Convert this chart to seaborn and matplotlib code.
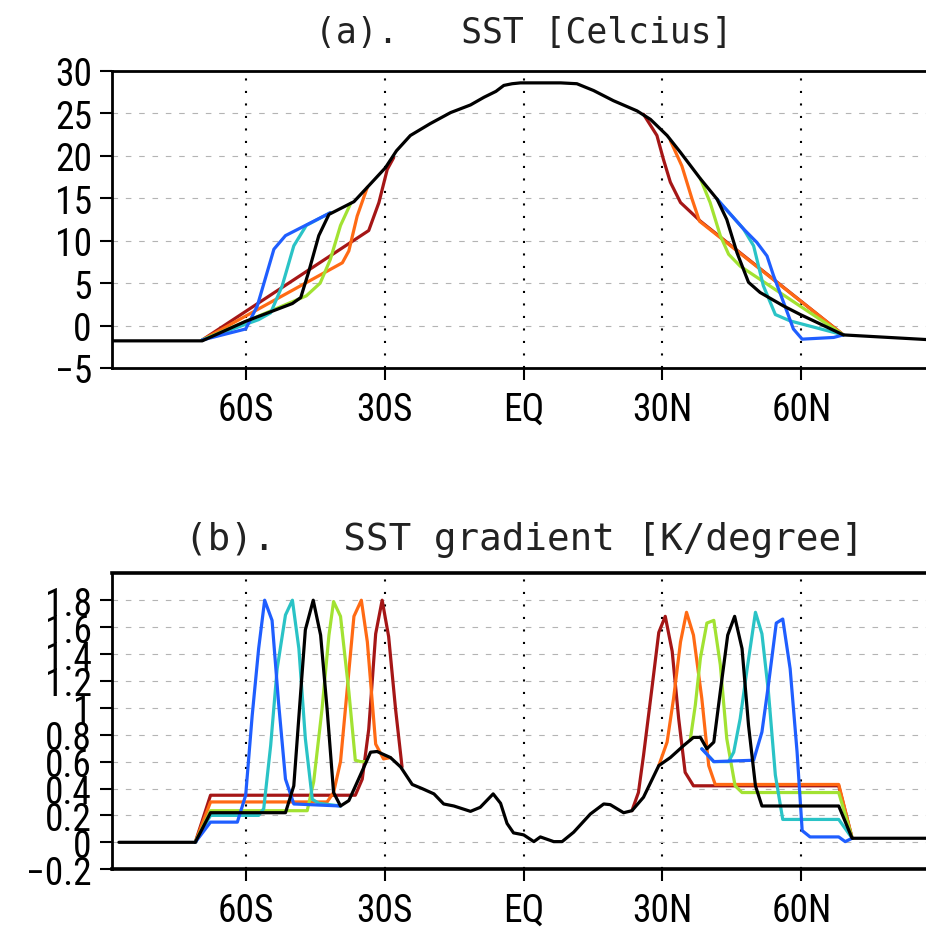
import numpy as np
import pandas as pd
import matplotlib
matplotlib.use("Agg")
import matplotlib.pyplot as plt
from matplotlib import font_manager
import seaborn as sns

# ---------------- data ----------------
xticks = [-60, -30, 0, 30, 60]
xticklabels = ["60S", "30S", "EQ", "30N", "60N"]
a_yticks = [-5, 0, 5, 10, 15, 20, 25, 30]
a_yticklabels = ["\u22125", "0", "5", "10", "15", "20", "25", "30"]
b_yticks = [-0.2, 0, 0.2, 0.4, 0.6, 0.8, 1.0, 1.2, 1.4, 1.6, 1.8]
b_yticklabels = ["\u22120.2", "0", "0.2", "0.4", "0.6", "0.8", "1", "1.2", "1.4", "1.6", "1.8"]

colors = {"red": "#a51616", "orange": "#ff6a14", "green": "#a2e232",
          "cyan": "#2ac3c6", "blue": "#1f5eff", "black": "#000000"}

# Panel (a): SST [Celcius]
sst_ctl_lat = [-88.8, -69.5, -60.1, -50.0, -48.2, -46.5, -44.3, -42.1, -36.7, -33.8, -29.9,
               -27.5, -24.5, -20.2, -15.8, -11.5, -8.6, -6.0, -4.3, -2.5, -0.7, 2.2, 8.0, 11.5,
               15.1, 19.4, 24.5, 27.4, 31.0, 33.9, 38.2, 41.8, 43.9, 46.1, 48.6, 51.1, 56.2,
               59.8, 69.1, 88.8]
sst_ctl_val = [-1.8, -1.8, 0.5, 2.6, 3.3, 6.3, 10.6, 13.1, 14.6, 16.3, 18.6,
               20.6, 22.4, 23.8, 25.1, 26.0, 26.9, 27.6, 28.3, 28.5, 28.6, 28.6, 28.6, 28.5,
               27.7, 26.5, 25.3, 24.3, 22.4, 20.4, 17.3, 14.9, 12.5, 8.6, 5.1, 3.9, 2.3,
               1.3, -1.1, -1.7]

sst_red_sh_lat = [-69.5, -33.5, -31.3, -29.5, -28.1]
sst_red_sh_val = [-1.7, 11.2, 14.5, 18.4, 19.8]
sst_red_nh_lat = [25.9, 28.8, 30.2, 31.7, 33.9, 38.2, 69.1]
sst_red_nh_val = [24.9, 22.4, 19.6, 16.9, 14.5, 12.3, -1.1]

sst_orange_sh_lat = [-69.5, -39.2, -37.8, -36.0, -33.8]
sst_orange_sh_val = [-1.7, 7.4, 8.8, 12.9, 16.3]
sst_orange_nh_lat = [31.7, 34.2, 36.4, 38.0, 69.1]
sst_orange_nh_val = [21.8, 18.8, 14.9, 12.3, -1.1]

sst_green_sh_lat = [-69.5, -47.0, -44.0, -41.8, -39.6, -37.4]
sst_green_sh_val = [-1.7, 3.5, 5.0, 7.8, 11.8, 14.4]
sst_green_nh_lat = [38.2, 40.3, 42.5, 44.3, 46.8, 69.1]
sst_green_nh_val = [17.3, 14.5, 10.6, 8.4, 7.0, -1.1]

sst_cyan_sh_lat = [-69.5, -57.3, -54.7, -52.2, -49.7, -47.0, -41.8]
sst_cyan_sh_val = [-1.7, 0.7, 1.5, 4.7, 9.4, 11.8, 13.3]
sst_cyan_nh_lat = [41.8, 47.5, 49.7, 51.8, 54.4, 57.6, 69.1]
sst_cyan_nh_val = [14.9, 11.4, 9.4, 4.7, 1.3, 0.55, -1.1]

sst_blue_sh_lat = [-69.5, -60.1, -57.6, -54.0, -51.5, -41.8]
sst_blue_sh_val = [-1.7, -0.4, 2.3, 9.0, 10.6, 13.3]
sst_blue_nh_lat = [41.8, 47.5, 50.4, 52.6, 54.0, 56.2, 58.3, 60.2, 67.0, 69.1]
sst_blue_nh_val = [14.9, 11.4, 9.8, 8.2, 5.9, 2.7, -0.4, -1.6, -1.4, -1.1]

# Panel (b): SST gradient [K/degree]
grd_ctl_lat = [-87.5, -71.0, -67.7, -51.5, -49.7, -48.2, -47.2, -45.5, -43.9, -42.5, -41.1,
               -39.6, -37.8, -35.7, -33.1, -31.7, -28.8, -26.6, -24.1, -22.0, -19.4, -17.3,
               -15.1, -11.5, -9.4, -6.6, -5.0, -3.6, -2.2, -0.7, 0.0, 2.2, 3.6, 6.5, 8.3,
               10.8, 14.4, 17.3, 18.7, 21.6, 23.4, 25.9, 29.2, 31.7, 34.6, 36.7, 38.2, 39.6,
               41.1, 42.5, 44.1, 45.6, 47.2, 48.6, 50.1, 51.5, 68.1, 71.0, 87.5]
grd_ctl_val = [0.0, 0.0, 0.22, 0.22, 0.42, 1.12, 1.58, 1.80, 1.54, 0.99, 0.37,
               0.27, 0.31, 0.47, 0.67, 0.675, 0.63, 0.56, 0.43, 0.40, 0.36, 0.285,
               0.27, 0.23, 0.26, 0.36, 0.29, 0.14, 0.07, 0.06, 0.055, 0.005, 0.04, 0.005, 0.005,
               0.075, 0.21, 0.285, 0.28, 0.22, 0.235, 0.335, 0.57, 0.63, 0.72, 0.78, 0.78, 0.695,
               0.745, 1.12, 1.54, 1.68, 1.44, 0.87, 0.42, 0.27, 0.27, 0.03, 0.03]

grd_red_sh_lat = [-71.0, -67.7, -36.4, -34.9, -33.5, -32.0, -30.6, -29.2, -27.7, -26.3]
grd_red_sh_val = [0.0, 0.35, 0.35, 0.47, 0.84, 1.55, 1.80, 1.53, 0.99, 0.56]
grd_red_nh_lat = [23.4, 24.8, 25.9, 27.7, 29.2, 30.6, 32.1, 33.5, 34.9, 36.7, 68.1, 71.0]
grd_red_nh_val = [0.235, 0.37, 0.645, 1.14, 1.56, 1.68, 1.42, 0.92, 0.52, 0.42, 0.42, 0.03]

grd_orange_sh_lat = [-71.0, -67.7, -42.5, -41.1, -39.6, -38.2, -36.7, -35.1, -33.8, -32.0, -30.3, -28.8]
grd_orange_sh_val = [0.0, 0.30, 0.30, 0.37, 0.60, 1.12, 1.68, 1.80, 1.49, 0.73, 0.62, 0.63]
grd_orange_nh_lat = [29.2, 31.0, 32.4, 33.9, 35.2, 36.7, 38.5, 40.0, 41.4, 68.1, 71.0]
grd_orange_nh_val = [0.57, 0.745, 1.07, 1.49, 1.71, 1.54, 1.07, 0.57, 0.43, 0.43, 0.03]

grd_green_sh_lat = [-71.0, -67.7, -46.8, -45.4, -43.6, -42.1, -41.1, -39.6, -37.8, -36.4, -35.3, -34.0]
grd_green_sh_val = [0.0, 0.235, 0.235, 0.45, 0.99, 1.54, 1.79, 1.68, 1.12, 0.61, 0.60, 0.60]
grd_green_nh_lat = [36.0, 37.1, 38.2, 39.6, 41.1, 42.5, 43.9, 45.7, 47.2, 68.1, 71.0]
grd_green_nh_val = [0.76, 1.02, 1.37, 1.63, 1.65, 1.32, 0.77, 0.42, 0.37, 0.37, 0.03]

grd_cyan_sh_lat = [-71.0, -67.7, -57.3, -56.2, -54.7, -53.3, -51.5, -50.0, -48.6, -47.2, -45.7, -44.3, -39.6]
grd_cyan_sh_val = [0.0, 0.20, 0.20, 0.25, 0.72, 1.29, 1.69, 1.80, 1.44, 0.77, 0.32, 0.29, 0.27]
grd_cyan_nh_lat = [38.5, 41.1, 44.3, 45.4, 46.8, 48.3, 50.1, 51.5, 52.9, 54.4, 56.0, 68.1, 71.0]
grd_cyan_nh_val = [0.695, 0.60, 0.60, 0.67, 0.92, 1.29, 1.71, 1.55, 1.12, 0.50, 0.17, 0.17, 0.03]

grd_blue_sh_lat = [-71.0, -67.7, -61.9, -60.1, -58.7, -57.3, -56.0, -54.4, -53.0, -51.5, -49.7, -39.6]
grd_blue_sh_val = [0.0, 0.15, 0.15, 0.35, 0.94, 1.44, 1.80, 1.65, 1.04, 0.47, 0.285, 0.27]
grd_blue_nh_lat = [38.5, 41.1, 49.7, 51.5, 52.9, 54.6, 56.0, 57.6, 59.1, 60.2, 61.9, 68.1, 69.5, 71.0]
grd_blue_nh_val = [0.695, 0.60, 0.61, 0.82, 1.17, 1.63, 1.66, 1.29, 0.67, 0.087, 0.04, 0.04, 0.005, 0.03]

# ---------------- styling ----------------
sns.set_theme(style="white")
names = {f.name for f in font_manager.fontManager.ttflist}
tick_font = "DejaVu Sans"
for cand in ["Liberation Sans Narrow", "DejaVu Sans Condensed", "Roboto Condensed",
             "Liberation Sans", "Roboto"]:
    if cand in names:
        tick_font = cand
        break
title_font = "DejaVu Sans Mono"
plt.rcParams["font.family"] = [tick_font, "DejaVu Sans"]
plt.rcParams["axes.unicode_minus"] = True

fig = plt.figure(figsize=(9.26, 9.29), dpi=100)
W, H = 926.0, 929.0
ax1 = fig.add_axes([112 / W, 1 - 369 / H, 823.4 / W, 297 / H])
ax2 = fig.add_axes([112 / W, 1 - 870.2 / H, 823.4 / W, 295.9 / H])


def draw(ax, lat, val, c, z):
    df = pd.DataFrame({"lat": lat, "val": val})
    sns.lineplot(data=df, x="lat", y="val", ax=ax, color=c, lw=2.3, sort=False,
                 estimator=None, legend=False, zorder=z)


order = ["red", "orange", "green", "cyan", "blue"]
series_a = {
    "red": [(sst_red_sh_lat, sst_red_sh_val), (sst_red_nh_lat, sst_red_nh_val)],
    "orange": [(sst_orange_sh_lat, sst_orange_sh_val), (sst_orange_nh_lat, sst_orange_nh_val)],
    "green": [(sst_green_sh_lat, sst_green_sh_val), (sst_green_nh_lat, sst_green_nh_val)],
    "cyan": [(sst_cyan_sh_lat, sst_cyan_sh_val), (sst_cyan_nh_lat, sst_cyan_nh_val)],
    "blue": [(sst_blue_sh_lat, sst_blue_sh_val), (sst_blue_nh_lat, sst_blue_nh_val)],
}
series_b = {
    "red": [(grd_red_sh_lat, grd_red_sh_val), (grd_red_nh_lat, grd_red_nh_val)],
    "orange": [(grd_orange_sh_lat, grd_orange_sh_val), (grd_orange_nh_lat, grd_orange_nh_val)],
    "green": [(grd_green_sh_lat, grd_green_sh_val), (grd_green_nh_lat, grd_green_nh_val)],
    "cyan": [(grd_cyan_sh_lat, grd_cyan_sh_val), (grd_cyan_nh_lat, grd_cyan_nh_val)],
    "blue": [(grd_blue_sh_lat, grd_blue_sh_val), (grd_blue_nh_lat, grd_blue_nh_val)],
}

for i, name in enumerate(order):
    for lat, val in series_a[name]:
        draw(ax1, lat, val, colors[name], 3 + i)
    for lat, val in series_b[name]:
        draw(ax2, lat, val, colors[name], 3 + i)
draw(ax1, sst_ctl_lat, sst_ctl_val, colors["black"], 10)
draw(ax2, grd_ctl_lat, grd_ctl_val, colors["black"], 10)

for ax, yt, ytl, ylim in [(ax1, a_yticks, a_yticklabels, (-5, 30)),
                          (ax2, b_yticks, b_yticklabels, (-0.2, 2.0))]:
    ax.set_xlim(-89, 89)
    ax.set_ylim(*ylim)
    ax.set_xticks(xticks)
    ax.set_xticklabels(xticklabels)
    ax.set_yticks(yt)
    ax.set_yticklabels(ytl)
    ax.set_xlabel("")
    ax.set_ylabel("")
    ax.set_facecolor("white")
    ax.grid(axis="y", color="#b4b4b4", linestyle=(0, (5, 7)), lw=0.8, zorder=1)
    ax.grid(axis="x", color="black", linestyle=(0, (1, 5)), lw=1.5, zorder=1)
    ax.set_axisbelow(True)
    for s in ["top", "bottom", "left", "right"]:
        ax.spines[s].set_color("black")
        ax.spines[s].set_linewidth(2.0)
    ax.tick_params(axis="both", which="major", direction="out", length=8.5, width=1.5,
                   color="black", labelsize=27, labelcolor="black", pad=6,
                   bottom=True, left=True, top=False, right=False)
    ax.tick_params(axis="x", pad=8)
ax2.spines["top"].set_linewidth(2.6)
ax2.spines["bottom"].set_linewidth(2.6)

fig.text(524 / W, 1 - 33 / H, "(a).   SST [Celcius]", ha="center", va="center",
         fontsize=25, family=title_font, color="#222222")
fig.text(524 / W, 1 - 540 / H, "(b).   SST gradient [K/degree]", ha="center", va="center",
         fontsize=27, family=title_font, color="#222222")

fig.savefig("out.png", dpi=100, facecolor="white")
